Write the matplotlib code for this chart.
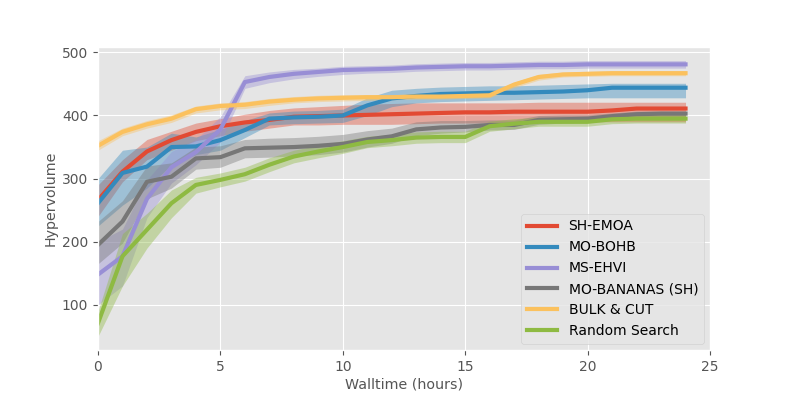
import matplotlib
matplotlib.use("Agg")
import matplotlib.pyplot as plt
import numpy as np

plt.style.use("ggplot")

hours = list(range(25))

names = ["SH-EMOA", "MO-BOHB", "MS-EHVI", "MO-BANANAS (SH)", "BULK & CUT", "Random Search"]
colors = ["#E24A33", "#348ABD", "#988ED5", "#777777", "#FBC15E", "#8EBA42"]

sh_emoa = [266, 311, 343, 361, 374, 383, 389, 393, 398, 399, 400, 401, 402, 403, 404, 405, 405, 406, 406, 406, 406, 408, 411, 411, 411]
sh_emoa_lo = [240, 295, 330, 345, 360, 368, 375, 380, 385, 385, 386, 386, 386, 387, 388, 388, 388, 389, 389, 390, 390, 390, 390, 390, 390]
sh_emoa_hi = [290, 330, 362, 375, 388, 395, 402, 408, 412, 414, 416, 418, 419, 420, 420, 420, 420, 420, 421, 421, 421, 421, 421, 421, 421]

mo_bohb = [261, 309, 319, 350, 351, 361, 377, 395, 397, 398, 400, 416, 427, 431, 434, 435, 436, 436, 437, 438, 440, 444, 444, 444, 444]
mo_bohb_lo = [225, 258, 285, 322, 338, 345, 365, 385, 387, 388, 389, 400, 414, 420, 422, 423, 424, 425, 426, 427, 428, 428, 428, 428, 428]
mo_bohb_hi = [300, 345, 350, 372, 366, 378, 392, 404, 407, 408, 410, 428, 440, 443, 445, 446, 447, 447, 448, 449, 450, 451, 451, 451, 451]

ms_ehvi = [148, 177, 268, 318, 342, 378, 453, 461, 466, 469, 472, 473, 474, 476, 477, 478, 478, 479, 480, 480, 481, 481, 481, 481, 481]
ms_ehvi_lo = [100, 130, 238, 293, 322, 358, 443, 452, 458, 462, 465, 467, 468, 470, 471, 472, 472, 473, 474, 474, 475, 475, 475, 475, 475]
ms_ehvi_hi = [200, 220, 298, 343, 362, 398, 463, 469, 473, 475, 478, 479, 480, 482, 483, 484, 484, 485, 486, 486, 487, 487, 487, 487, 487]

mo_bananas = [195, 232, 295, 303, 332, 334, 348, 349, 350, 352, 355, 362, 367, 378, 381, 382, 385, 385, 393, 394, 395, 399, 402, 403, 403]
mo_bananas_lo = [165, 198, 268, 285, 315, 318, 333, 334, 336, 338, 342, 350, 356, 368, 372, 374, 377, 378, 386, 388, 389, 394, 397, 398, 398]
mo_bananas_hi = [232, 265, 320, 325, 350, 352, 362, 364, 365, 367, 370, 376, 380, 390, 392, 392, 393, 393, 400, 401, 401, 404, 407, 407, 407]

bulk_cut = [352, 374, 386, 395, 410, 415, 417, 422, 425, 427, 428, 429, 429, 430, 430, 431, 432, 449, 461, 465, 466, 467, 467, 467, 467]
bulk_cut_lo = [345, 368, 380, 389, 404, 409, 411, 416, 420, 422, 423, 424, 425, 426, 426, 427, 428, 444, 456, 461, 462, 463, 463, 463, 463]
bulk_cut_hi = [360, 380, 392, 401, 415, 420, 422, 427, 430, 432, 433, 433, 433, 434, 434, 435, 436, 453, 465, 469, 470, 471, 471, 471, 471]

random_search = [71, 177, 219, 261, 290, 298, 307, 322, 335, 343, 350, 358, 361, 365, 366, 366, 383, 387, 390, 390, 390, 394, 395, 395, 395]
random_search_lo = [50, 130, 190, 238, 277, 287, 296, 311, 325, 333, 340, 349, 352, 356, 357, 357, 375, 379, 383, 383, 383, 387, 388, 388, 388]
random_search_hi = [90, 213, 245, 282, 302, 309, 318, 333, 345, 353, 360, 367, 370, 374, 375, 375, 391, 395, 397, 397, 397, 401, 402, 402, 402]

series = [
    (sh_emoa, sh_emoa_lo, sh_emoa_hi),
    (mo_bohb, mo_bohb_lo, mo_bohb_hi),
    (ms_ehvi, ms_ehvi_lo, ms_ehvi_hi),
    (mo_bananas, mo_bananas_lo, mo_bananas_hi),
    (bulk_cut, bulk_cut_lo, bulk_cut_hi),
    (random_search, random_search_lo, random_search_hi),
]

fig = plt.figure(figsize=(7.89, 3.95), dpi=100)
ax = fig.add_axes([98/789, 1-350/395, (710-98)/789, (350-47)/395])

for (mean, lo, hi), name, c in zip(series, names, colors):
    ax.fill_between(hours, lo, hi, color=c, alpha=0.4, linewidth=0)
    ax.plot(hours, mean, color=c, lw=3.0, label=name)

ax.set_xlim(0, 25)
ax.set_ylim(28.5, 508.5)
ax.set_xticks([0, 5, 10, 15, 20, 25])
ax.set_yticks([100, 200, 300, 400, 500])
ax.tick_params(labelsize=10, colors="#555555")
ax.set_xlabel("Walltime (hours)", fontsize=10.3, color="#555555", labelpad=3)
ax.set_ylabel("Hypervolume", fontsize=10.3, color="#555555", labelpad=3)
ax.legend(loc="lower right", fontsize=10, handlelength=2.2, labelspacing=0.5,
          borderaxespad=0.45, framealpha=0.8)

fig.savefig("out.png", dpi=100)
